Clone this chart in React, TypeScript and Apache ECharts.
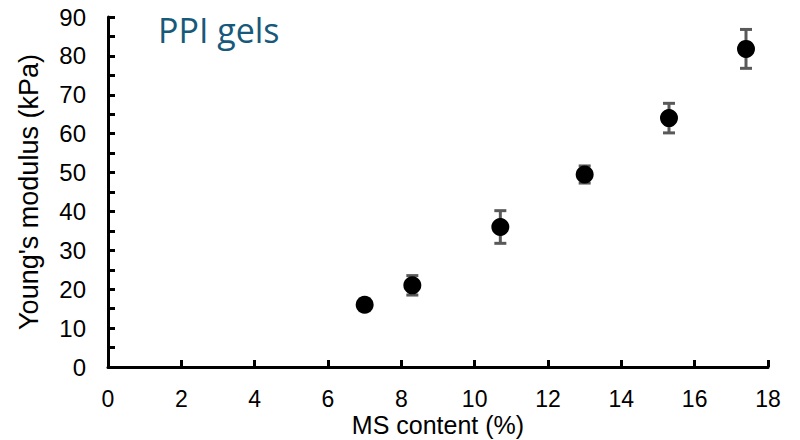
import React, { useEffect, useRef } from "react";
import * as echarts from "echarts";

const msContent = [7.0, 8.3, 10.7, 13.0, 15.3, 17.4];
const youngsModulus = [16.0, 21.0, 36.0, 49.5, 64.0, 81.8];
const errorValues = [1.5, 2.5, 4.2, 2.2, 3.8, 5.0];
const xTicks = { min: 0, max: 18, interval: 2 };
const yTicks = { min: 0, max: 90, interval: 10 };

export default function App() {
  const ref = useRef<HTMLDivElement>(null);
  useEffect(() => {
    if (!ref.current) return;
    const chart = echarts.init(ref.current, null, { renderer: "svg" });
    const points = msContent.map((x, i) => [x, youngsModulus[i]]);
    const errs = msContent.map((x, i) => [x, youngsModulus[i], errorValues[i]]);
    const font = "'Liberation Sans', Arial, sans-serif";
    chart.setOption({
      animation: false,
      backgroundColor: "#ffffff",
      title: {
        text: "PPI gels",
        left: 153,
        top: 8,
        textStyle: {
          fontFamily: "'Open Sans', sans-serif",
          fontSize: 34,
          fontWeight: "normal",
          color: "#17597a",
        },
      },
      grid: { left: 108, right: 32, top: 17, bottom: 73, containLabel: false, outerBoundsMode: "none" },
      xAxis: {
        type: "value",
        min: xTicks.min,
        max: xTicks.max,
        interval: xTicks.interval,
        name: "MS content (%)",
        nameLocation: "middle",
        nameGap: 47,
        nameMoveOverlap: false,
        nameTextStyle: { fontFamily: font, fontSize: 25, lineHeight: 22, color: "#000" },
        axisLine: { show: true, onZero: false, lineStyle: { color: "#000", width: 3 } },
        axisTick: { show: true, inside: true, length: 7, lineStyle: { color: "#000", width: 3 } },
        axisLabel: { fontFamily: font, fontSize: 23, lineHeight: 20, color: "#000", margin: 22 },
        splitLine: { show: false },
      },
      yAxis: {
        type: "value",
        min: yTicks.min,
        max: yTicks.max,
        interval: yTicks.interval,
        name: "Young's modulus (kPa)",
        nameLocation: "middle",
        nameGap: 66,
        nameMoveOverlap: false,
        nameTextStyle: { fontFamily: font, fontSize: 27, color: "#000" },
        axisLine: { show: true, onZero: false, lineStyle: { color: "#000", width: 3 } },
        axisTick: { show: true, inside: true, length: 7, lineStyle: { color: "#000", width: 3 } },
        minorTick: { show: true, splitNumber: 2, length: 7, lineStyle: { color: "#000", width: 3 } },
        axisLabel: { fontFamily: font, fontSize: 24, color: "#000", margin: 22 },
        splitLine: { show: false },
      },
      series: [
        {
          type: "custom",
          data: errs,
          z: 1,
          renderItem: (params: any, api: any) => {
            const x = api.value(0);
            const y = api.value(1);
            const e = api.value(2);
            const top = api.coord([x, y + e]);
            const bot = api.coord([x, y - e]);
            const hw = 6;
            const style = { stroke: "#595959", lineWidth: 3 };
            return {
              type: "group",
              children: [
                { type: "line", shape: { x1: top[0], y1: top[1], x2: bot[0], y2: bot[1] }, style },
                { type: "line", shape: { x1: top[0] - hw, y1: top[1], x2: top[0] + hw, y2: top[1] }, style },
                { type: "line", shape: { x1: bot[0] - hw, y1: bot[1], x2: bot[0] + hw, y2: bot[1] }, style },
              ],
            };
          },
        },
        {
          type: "scatter",
          data: points,
          z: 5,
          symbol: "circle",
          symbolSize: 18,
          itemStyle: { color: "#000", opacity: 1 },
        },
      ],
    });
    return () => chart.dispose();
  }, []);
  return <div ref={ref} style={{ width: 800, height: 440, position: "absolute", left: 0, top: 0 }} />;
}
